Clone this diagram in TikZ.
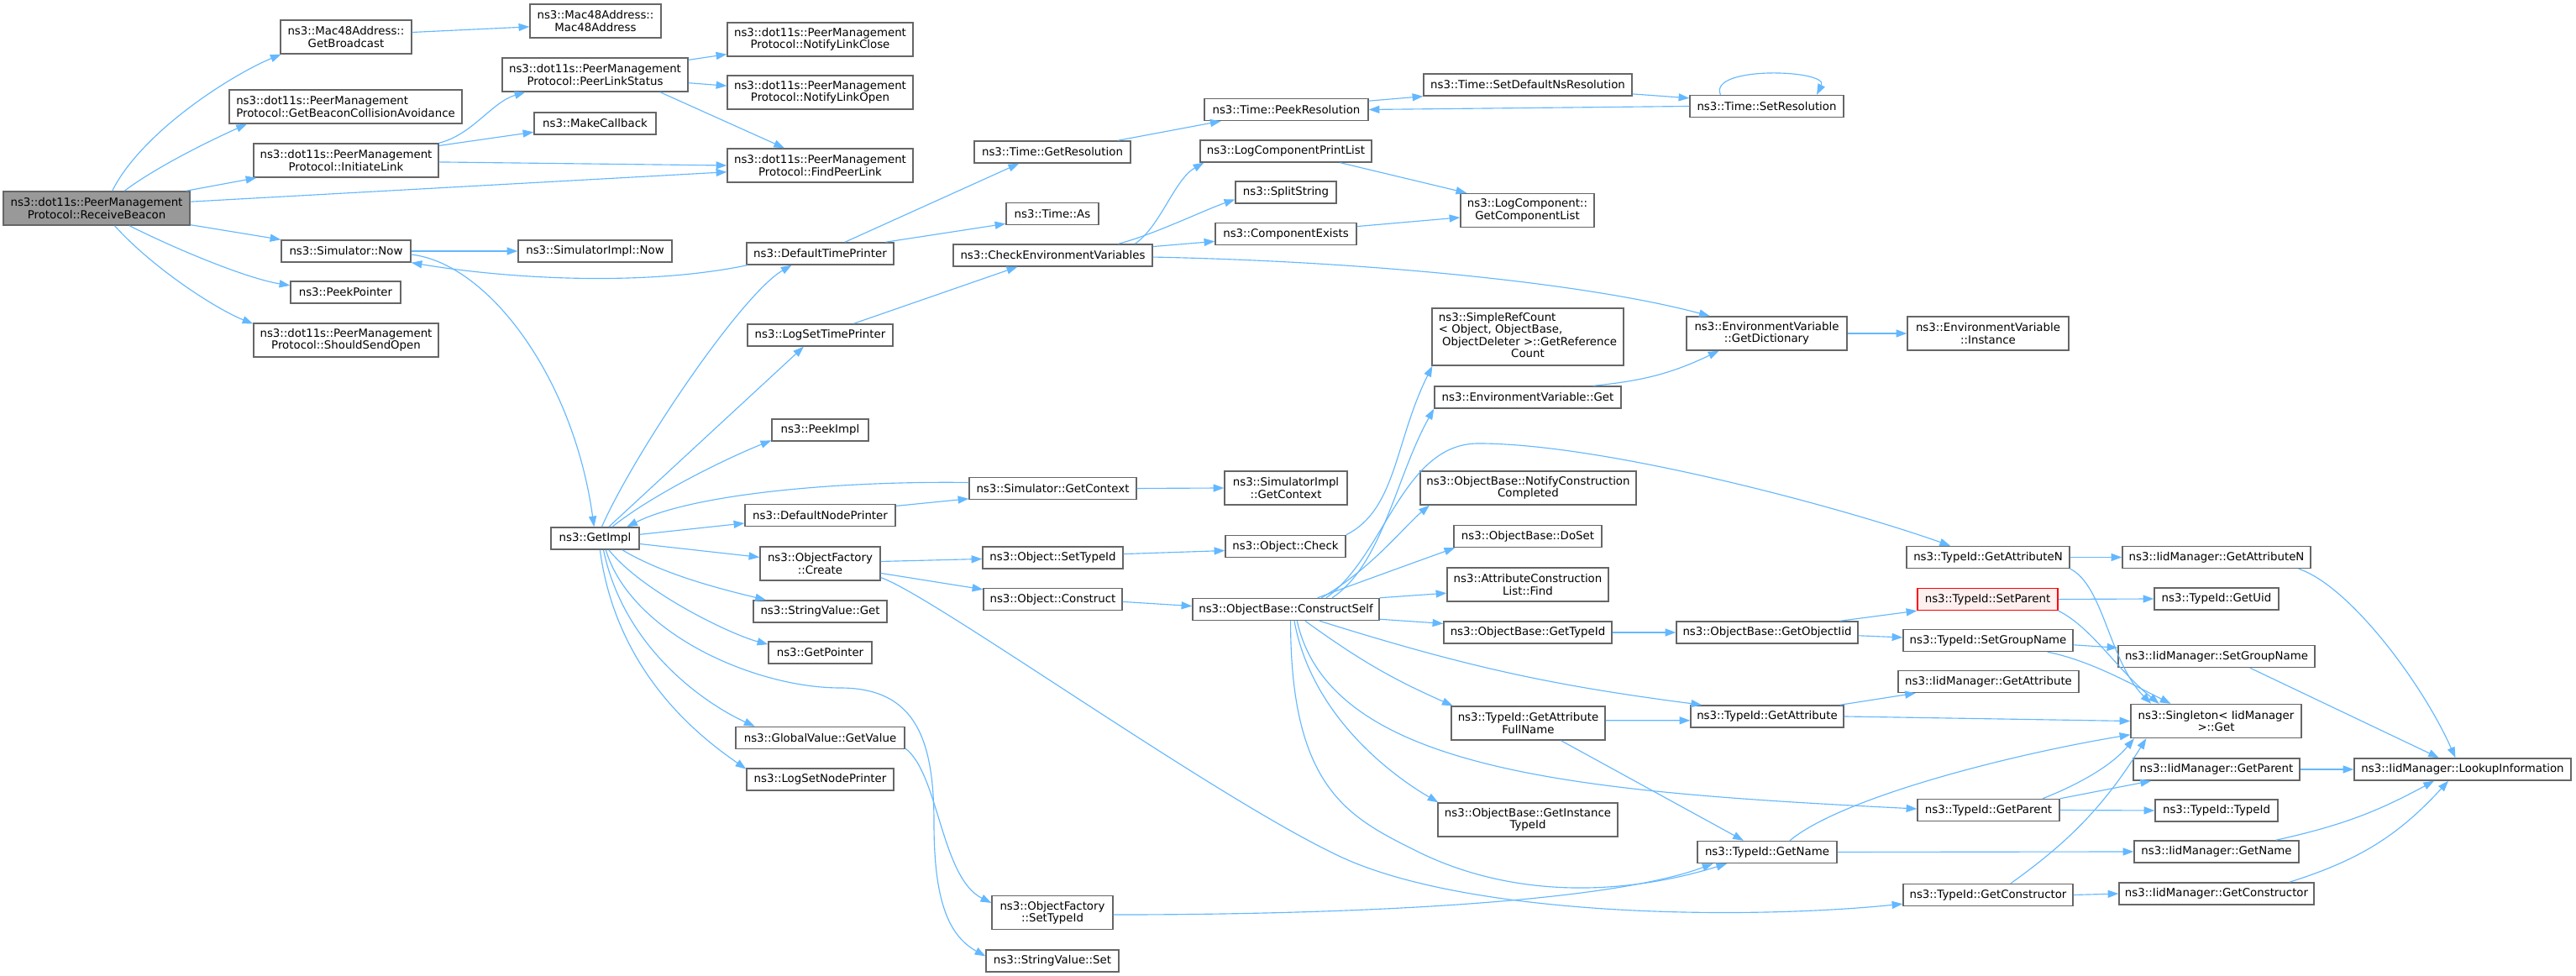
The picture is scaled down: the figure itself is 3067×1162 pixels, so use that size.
\documentclass[tikz,border=0pt]{standalone}
\usepackage{fontspec}
\setmainfont{DejaVu Sans}
\usetikzlibrary{arrows.meta}
\definecolor{edgeblue}{HTML}{63B8FF}
\definecolor{nodeline}{HTML}{666666}
\definecolor{rootfill}{HTML}{999999}
\definecolor{warnfill}{HTML}{FFF0F0}

\begin{document}
\begin{tikzpicture}[x=0.75pt, y=0.75pt,
    fn/.style={draw=nodeline, fill=white, line width=1.1pt, inner sep=1pt, minimum height=19.5pt, align=center, font=\fontsize{10}{10.7}\selectfont},
    two/.style={minimum height=30pt},
    wd/.style={minimum width=#1*0.75pt},
    root/.style={fill=rootfill},
    warn/.style={draw=red, fill=warnfill},
    call/.style={draw=edgeblue, line width=0.85pt, -{Triangle[length=9.5pt,width=6.8pt]}}]
    \path[use as bounding box, fill=white] (0,0) rectangle (3067,1162);

    \node[fn, two, root, wd=222] (RB) at (115,914) {ns3::dot11s::PeerManagement\\Protocol::ReceiveBeacon};

    \node[fn, two, wd=156] (GB) at (412,1118) {ns3::Mac48Address::\\GetBroadcast};
    \node[fn, two, wd=277, align=left] (GBCA) at (411.5,1035) {ns3::dot11s::PeerManagement\\Protocol::GetBeaconCollisionAvoidance};
    \node[fn, two, wd=220] (IL) at (412,971) {ns3::dot11s::PeerManagement\\Protocol::InitiateLink};
    \node[fn, wd=154] (SNow) at (412,863) {ns3::Simulator::Now};
    \node[fn, wd=131] (PP) at (411.5,814) {ns3::PeekPointer};
    \node[fn, two, wd=220] (SSO) at (412,757) {ns3::dot11s::PeerManagement\\Protocol::ShouldSendOpen};

    \node[fn, two, wd=156] (M48) at (709,1137) {ns3::Mac48Address::\\Mac48Address};
    \node[fn, two, wd=221] (PLS) at (708.5,1073) {ns3::dot11s::PeerManagement\\Protocol::PeerLinkStatus};
    \node[fn, wd=145] (MC) at (708.5,1015) {ns3::MakeCallback};
    \node[fn, wd=183] (SINow) at (708.5,863) {ns3::SimulatorImpl::Now};
    \node[fn, wd=105] (GI) at (708.5,521) {ns3::GetImpl};

    \node[fn, two, wd=221] (NLC) at (976.5,1115) {ns3::dot11s::PeerManagement\\Protocol::NotifyLinkClose};
    \node[fn, two, wd=221] (NLO) at (976.5,1052) {ns3::dot11s::PeerManagement\\Protocol::NotifyLinkOpen};
    \node[fn, two, wd=221] (FPL) at (976.5,965) {ns3::dot11s::PeerManagement\\Protocol::FindPeerLink};
    \node[fn, wd=175] (DTP) at (976.5,860) {ns3::DefaultTimePrinter};
    \node[fn, wd=173] (LSTP) at (976.5,763) {ns3::LogSetTimePrinter};
    \node[fn, wd=115] (PI) at (976.5,650) {ns3::PeekImpl};
    \node[fn, wd=179] (DNP) at (976.5,548.5) {ns3::DefaultNodePrinter};
    \node[fn, two, wd=143] (OFC) at (976.5,491) {ns3::ObjectFactory\\::Create};
    \node[fn, wd=159] (SVG) at (976.5,434) {ns3::StringValue::Get};
    \node[fn, wd=123] (GP) at (976.5,385) {ns3::GetPointer};
    \node[fn, wd=201] (GVGV) at (976.5,283.5) {ns3::GlobalValue::GetValue};
    \node[fn, wd=175] (LSNP) at (976.5,234) {ns3::LogSetNodePrinter};

    \node[fn, wd=186] (GR) at (1253,981) {ns3::Time::GetResolution};
    \node[fn, wd=110] (TA) at (1253,907.5) {ns3::Time::As};
    \node[fn, wd=237] (CEV) at (1253.5,858) {ns3::CheckEnvironmentVariables};
    \node[fn, wd=199] (SGC) at (1253.5,580.5) {ns3::Simulator::GetContext};
    \node[fn, wd=167] (OST) at (1253.5,498) {ns3::Object::SetTypeId};
    \node[fn, wd=165] (OCn) at (1253.5,448.5) {ns3::Object::Construct};
    \node[fn, two, wd=144] (OFST) at (1253,75.5) {ns3::ObjectFactory\\::SetTypeId};
    \node[fn, wd=158] (SVS) at (1253,18) {ns3::StringValue::Set};

    \node[fn, wd=195] (PR) at (1531.5,1031.5) {ns3::Time::PeekResolution};
    \node[fn, wd=204] (LCPL) at (1531,982) {ns3::LogComponentPrintList};
    \node[fn, wd=120] (SS) at (1531,933) {ns3::SplitString};
    \node[fn, wd=168] (CE) at (1531,883.5) {ns3::ComponentExists};
    \node[fn, two, wd=146] (SIGC) at (1531,581) {ns3::SimulatorImpl\\::GetContext};
    \node[fn, wd=143] (OCk) at (1530.5,511.5) {ns3::Object::Check};
    \node[fn, wd=222] (CS) at (1531,436.5) {ns3::ObjectBase::ConstructSelf};

    \node[fn, wd=248] (SDNR) at (1819,1061) {ns3::Time::SetDefaultNsResolution};
    \node[fn, two, wd=159] (GCL) at (1818.5,911.5) {ns3::LogComponent::\\GetComponentList};
    \node[fn, wd=228, minimum height=51pt] (SRC) at (1819,761) {\begin{tabular}{@{}l@{}}ns3::SimpleRefCount\\< Object, ObjectBase,\\\ ObjectDeleter >::GetReference\\\multicolumn{1}{@{}c@{}}{Count}\end{tabular}};
    \node[fn, wd=222] (EVG) at (1819,689) {ns3::EnvironmentVariable::Get};
    \node[fn, two, wd=257] (NCC) at (1819.5,581) {ns3::ObjectBase::NotifyConstruction\\Completed};
    \node[fn, wd=176] (DS) at (1819,523.5) {ns3::ObjectBase::DoSet};
    \node[fn, two, wd=192] (ACLF) at (1819,466) {ns3::AttributeConstruction\\List::Find};
    \node[fn, wd=200] (OBGT) at (1819,409) {ns3::ObjectBase::GetTypeId};
    \node[fn, two, wd=183] (GAFN) at (1819.5,301) {ns3::TypeId::GetAttribute\\FullName};
    \node[fn, two, wd=214] (GITI) at (1819,186) {ns3::ObjectBase::GetInstance\\TypeId};

    \node[fn, wd=183] (SR) at (2103.5,1035.5) {ns3::Time::SetResolution};
    \node[fn, two, wd=191] (GD) at (2103.5,765) {ns3::EnvironmentVariable\\::GetDictionary};
    \node[fn, wd=216] (GOI) at (2104,409) {ns3::ObjectBase::GetObjectIid};
    \node[fn, wd=182] (TGA) at (2104,309) {ns3::TypeId::GetAttribute};
    \node[fn, wd=166] (TGN) at (2104,147.5) {ns3::TypeId::GetName};

    \node[fn, two, wd=192] (EVI) at (2367,765) {ns3::EnvironmentVariable\\::Instance};
    \node[fn, wd=194] (TGAN) at (2367,498.5) {ns3::TypeId::GetAttributeN};
    \node[fn, warn, wd=167] (SP) at (2366.5,448.5) {ns3::TypeId::SetParent};
    \node[fn, wd=202] (SGN) at (2367,399.5) {ns3::TypeId::SetGroupName};
    \node[fn, wd=215] (IGA) at (2367.5,350.5) {ns3::IidManager::GetAttribute};
    \node[fn, wd=169] (TGP) at (2367.5,197.5) {ns3::TypeId::GetParent};
    \node[fn, wd=202] (TGC) at (2367,96.5) {ns3::TypeId::GetConstructor};

    \node[fn, wd=224] (IGAN) at (2639,498.5) {ns3::IidManager::GetAttributeN};
    \node[fn, wd=148] (GU) at (2639,449) {ns3::TypeId::GetUid};
    \node[fn, wd=234] (ISGN) at (2639,380.5) {ns3::IidManager::SetGroupName};
    \node[fn, two, wd=203] (SG) at (2638.5,303.5) {ns3::Singleton< IidManager\\ >::Get};
    \node[fn, wd=198] (IGP) at (2639,246) {ns3::IidManager::GetParent};
    \node[fn, wd=146] (TTI) at (2639,197) {ns3::TypeId::TypeId};
    \node[fn, wd=196] (IGN) at (2639,148) {ns3::IidManager::GetName};
    \node[fn, wd=232] (IGC) at (2639,98) {ns3::IidManager::GetConstructor};

    \node[fn, wd=258] (LI) at (2932,246) {ns3::IidManager::LookupInformation};

    \draw[call] (RB.48) .. controls +(35,70) and +(-60,-25) .. (GB.195);
    \draw[call] (RB.32) .. controls +(40,30) and +(-40,-18) .. (GBCA.190);
    \path (RB.11) edge[call] (IL.191);
    \path (RB.4) edge[call] (FPL.184);
    \path (RB.-10) edge[call] (SNow.170);
    \draw[call] (RB.-28) .. controls +(60,-30) and +(-50,8) .. (PP.173);
    \draw[call] (RB.-44) .. controls +(45,-50) and +(-45,18) .. (SSO.170);

    \path (GB.4) edge[call] (M48.185);
    \draw[call] (IL.north east) .. controls +(40,10) and +(-40,-12) .. (PLS.194);
    \path (IL.9) edge[call] (MC.188);
    \path (IL.-1) edge[call] (FPL.180);
    \path (PLS.9) edge[call] (NLC.189);
    \path (PLS.-5) edge[call] (NLO.176);
    \path (PLS.-15) edge[call] (FPL.154);

    \path (SNow.0) edge[call] (SINow.180);
    \draw[call] (SNow.-3) .. controls +(90,-10) and +(-25,180) .. (GI.95);
    \draw[call] (DTP.189) .. controls +(-120,-25) and +(120,-20) .. (SNow.south east);
    \draw[call] (GI.60) .. controls +(40,90) and +(-60,-35) .. (DTP.202);
    \path (DTP.25) edge[call] (GR.199);
    \path (DTP.10) edge[call] (TA.192);
    \path (GR.10) edge[call] (PR.190);
    \path (PR.6) edge[call] (SDNR.south west);
    \path (SDNR.-5) edge[call] (SR.174);
    \path (SR.180) edge[call] (PR.0);
    \draw[call] (SR.166) .. controls +(-15,35) and +(15,30) .. (SR.13);

    \path (GI.40) edge[call] (LSTP.215);
    \path (LSTP.19) edge[call] (CEV.198);
    \draw[call] (CEV.8) .. controls +(30,20) and +(-35,-20) .. (LCPL.188);
    \draw[call] (CEV.10) .. controls +(40,10) and +(-35,-12) .. (SS.188);
    \path (CEV.5) edge[call] (CE.186);
    \draw[call] (CEV.-1) .. controls +(250,-5) and +(-150,40) .. (GD.163);
    \path (LCPL.-12) edge[call] (GCL.164);
    \path (CE.6) edge[call] (GCL.186);
    \draw[call] (EVG.10) to[bend right=10] (GD.200);
    \path (GD.0) edge[call] (EVI.180);

    \draw[call] (GI.34) .. controls +(50,40) and +(-50,-20) .. (PI.192);
    \path (GI.5) edge[call] (DNP.186);
    \path (GI.-7) edge[call] (OFC.174);
    \draw[call] (GI.-23) .. controls +(50,-30) and +(-50,12) .. (SVG.168);
    \draw[call] (GI.-40) .. controls +(40,-50) and +(-45,12) .. (GP.171);
    \draw[call] (GI.-54) .. controls +(25,-120) and +(-55,25) .. (GVGV.170);
    \draw[call] (GI.-67) .. controls +(20,-150) and +(-50,35) .. (LSNP.172);
    \draw[call] (GI.-47) .. controls +(30,-100) and +(-100,0) .. (1000,343) .. controls +(90,0) and +(0,100) .. (1112,182) .. controls +(0,-90) and +(-45,25) .. (SVS.176);
    \draw[call] (SGC.176) .. controls +(-150,2) and +(80,40) .. (GI.20);
    \path (DNP.7) edge[call] (SGC.187);
    \path (SGC.0) edge[call] (SIGC.180);

    \draw[call] (GVGV.-7) .. controls +(40,-30) and +(-60,30) .. (OFST.171);
    \draw[call] (OFST.-2) .. controls +(300,0) and +(-120,-45) .. (TGN.192);
    \path (OFC.2) edge[call] (OST.181);
    \path (OFC.-9) edge[call] (OCn.172);
    \draw[call] (OFC.-13) .. controls +(60,-20) and +(-150,70) .. (1596,142) .. controls +(150,-70) and +(-200,-20) .. (TGC.186);
    \path (OST.3) edge[call] (OCk.184);
    \draw[call] (OCk.north east) .. controls +(60,30) and +(-45,-90) .. (SRC.197);
    \path (OCn.-2) edge[call] (CS.178);

    \draw[call] (CS.14) .. controls +(60,40) and +(-45,-80) .. (EVG.187);
    \draw[call] (CS.16) .. controls +(70,50) and +(-90,0) .. (1760,634) .. controls +(150,0) and +(-130,46) .. (TGAN.163);
    \draw[call] (CS.18) .. controls +(60,35) and +(-30,-25) .. (NCC.190);
    \draw[call] (CS.20) .. controls +(40,15) and +(-50,-18) .. (DS.189);
    \path (CS.north east) edge[call] (ACLF.186);
    \path (CS.-6) edge[call] (OBGT.174);
    \draw[call] (CS.-19) to[bend right=5] (TGA.170);
    \draw[call] (CS.-31) to[bend right=6] (GAFN.167);
    \draw[call] (CS.-46) .. controls +(40,-180) and +(-400,20) .. (TGP.179);
    \draw[call] (CS.-54) .. controls +(20,-110) and +(-60,35) .. (GITI.169);
    \draw[call] (CS.-68) .. controls +(0,-200) and +(-80,40) .. (1686,149) .. controls +(110,-55) and +(-130,-40) .. (TGN.196);

    \path (GAFN.2) edge[call] (TGA.183);
    \path (GAFN.-28) edge[call] (TGN.154);
    \path (TGA.9) edge[call] (IGA.189);
    \path (TGA.0) edge[call] (SG.180);
    \draw[call] (TGN.27) .. controls +(60,50) and +(-150,-25) .. (SG.189);
    \path (TGN.0) edge[call] (IGN.180);
    \draw[call] (TGP.12) .. controls +(50,20) and +(-25,-30) .. (SG.192);
    \path (TGP.north east) edge[call] (IGP.190);
    \path (TGP.0) edge[call] (TTI.180);
    \draw[call] (TGC.27) .. controls +(70,50) and +(-50,-80) .. (SG.194);
    \path (TGC.0) edge[call] (IGC.180);
    \path (OBGT.0) edge[call] (GOI.180);
    \path (GOI.9) edge[call] (SP.south west);
    \path (GOI.-2) edge[call] (SGN.178);
    \path (TGAN.0) edge[call] (IGAN.180);
    \draw[call] (TGAN.-8) .. controls +(40,-20) and +(-50,50) .. (SG.165);
    \path (SP.0) edge[call] (GU.180);
    \draw[call] (SP.south east) .. controls +(40,-20) and +(-50,40) .. (SG.163);
    \path (SGN.-3) edge[call] (ISGN.175);
    \draw[call] (SGN.-11) .. controls +(50,-10) and +(-50,25) .. (SG.159);

    \draw[call] (IGAN.-8) .. controls +(60,-20) and +(-40,90) .. (LI.122);
    \path (ISGN.-19) edge[call] (LI.154);
    \path (IGP.0) edge[call] (LI.180);
    \draw[call] (IGN.11) to[bend right=8] (LI.202);
    \draw[call] (IGC.9) to[bend right=15] (LI.219);

\end{tikzpicture}
\end{document}
